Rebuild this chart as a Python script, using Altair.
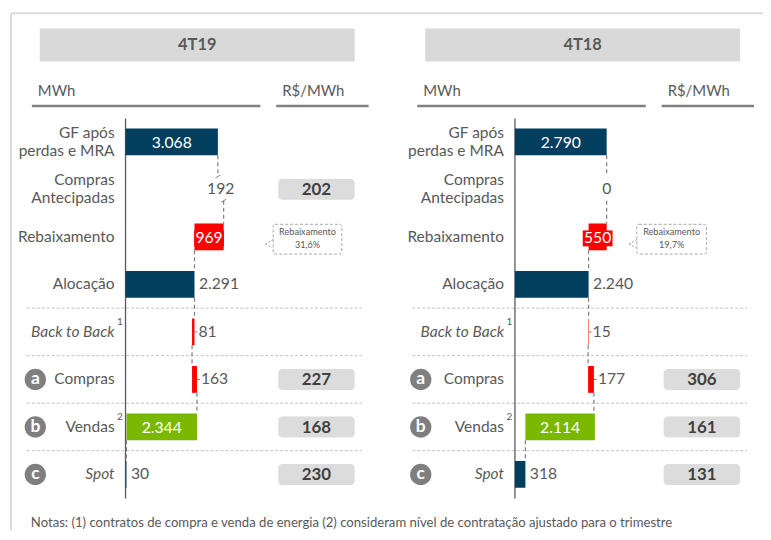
import altair as alt
import pandas as pd

# ---------------- data ----------------
periods = ["4T19", "4T18"]
row_labels = ["GF após|perdas e MRA", "Compras|Antecipadas", "Rebaixamento", "Alocação",
              "Back to Back", "Compras", "Vendas", "Spot"]
italic_rows = ["Back to Back", "Spot"]
mwh_4t19 = [3068, 192, 969, 2291, 81, 163, 2344, 30]
mwh_4t18 = [2790, 0, 550, 2240, 15, 177, 2114, 318]
price_rows = ["Compras|Antecipadas", "Compras", "Vendas", "Spot"]
price_4t19 = [202, 227, 168, 230]
price_4t18 = [None, 306, 161, 131]
rebaix_title = "Rebaixamento"
rebaix_pct = ["31,6%", "19,7%"]
letter_rows = ["Compras", "Vendas", "Spot"]
letters = ["a", "b", "c"]
sup_rows = ["Back to Back", "Vendas"]
sups = ["1", "2"]
unit_left = "MWh"
unit_right = "R$/MWh"
note = ("Notas:  (1) contratos de compra e venda de energia (2) consideram nível de "
        "contratação ajustado para o trimestre")

# ---------------- style ----------------
FONT = "Lato"
NAVY = "#023f5e"
RED = "#ff0000"
GREEN = "#7ab800"
TXT = "#595959"
LBL = 15.6
NUM = 15.8
Y0, DY = 133.0, 47.83
H = 0.282
ys = alt.Scale(domain=[0, 7], range=[Y0, Y0 + 7 * DY])


def fmt(v):
    return f"{v:,}".replace(",", ".")


def Yq(field):
    return alt.Y(field, type="quantitative", scale=ys, axis=None)


one = pd.DataFrame({"k": [0]})
layers = []

# outer frame
layers.append(alt.Chart(one).mark_rule(color="#dadada", strokeWidth=2).encode(
    x=alt.value(3), x2=alt.value(760), y=alt.value(3.5)))
layers.append(alt.Chart(one).mark_rule(color="#dadada", strokeWidth=2).encode(
    x=alt.value(3), y=alt.value(3.5), y2=alt.value(524)))

# note
layers.append(alt.Chart(pd.DataFrame({"t": [note]})).mark_text(
    font=FONT, fontSize=13.2, color=TXT, align="left", baseline="middle").encode(
    x=alt.value(23), y=alt.value(516.5), text="t:N"))


def panel(pi, period, vals, prices, pct):
    off = [0, 388][pi]
    ax0 = [118.3, 510.3][pi]
    ppu = [0.0303, 0.0331][pi]
    cx0, cx1 = [(267, 336), (633, 703)][pi]
    xs = alt.Scale(domain=[0, 10000], range=[ax0, ax0 + 10000 * ppu])

    def Xq(field):
        return alt.X(field, type="quantitative", scale=xs, axis=None)

    L = []
    gf, ca, reb, aloc, btb, comp, vend, spot = vals
    after_ca = gf + ca
    after_btb = aloc - btb
    after_comp = after_btb + comp

    # header box + title
    pdf = pd.DataFrame({"p": [period]})
    L.append(alt.Chart(pdf).mark_rect(color="#d9d9d9").encode(
        x=alt.value(off + 32), x2=alt.value(off + 349), y=alt.value(19), y2=alt.value(52)))
    L.append(alt.Chart(pdf).mark_text(font=FONT, fontSize=16.5, fontWeight="bold", color=TXT,
                                      baseline="middle").encode(
        x=alt.value(off + 190.5), y=alt.value(36), text="p:N"))
    # unit headers
    udf = pd.DataFrame({"u": [unit_left]})
    L.append(alt.Chart(udf).mark_text(font=FONT, fontSize=15, color=TXT, align="left",
                                      baseline="middle").encode(
        x=alt.value(off + 30), y=alt.value(82), text="u:N"))
    udf2 = pd.DataFrame({"u": [unit_right]})
    L.append(alt.Chart(udf2).mark_text(font=FONT, fontSize=15, color=TXT, align="left",
                                       baseline="middle").encode(
        x=alt.value(off + 276), y=alt.value(82), text="u:N"))
    L.append(alt.Chart(one).mark_rule(color="#808080", strokeWidth=2.5).encode(
        x=alt.value(off + 24), x2=alt.value(off + 254), y=alt.value(97)))
    L.append(alt.Chart(one).mark_rule(color="#808080", strokeWidth=2.5).encode(
        x=alt.value(off + 270), x2=alt.value(off + 363), y=alt.value(97)))

    # separators between lower rows
    sep = pd.DataFrame({"b": [i + 0.5 for i in range(3, 7)]})
    L.append(alt.Chart(sep).mark_rule(color="#bfbfbf", strokeDash=[3, 2], strokeWidth=1).encode(
        x=alt.value(off + 19), x2=alt.value(off + 356), y=Yq("b")))

    # axis line at zero
    L.append(alt.Chart(pd.DataFrame({"z": [0]})).mark_rule(color="#595959", strokeWidth=1.3).encode(
        x=Xq("z"), y=alt.value(109.5), y2=alt.value(492)))

    # row labels
    rl = pd.DataFrame({"label": row_labels, "row": list(range(len(row_labels)))})
    rl["italic"] = rl.label.isin(italic_rows)
    rl["multi"] = rl.label.str.contains("|", regex=False)
    for it in (False, True):
        for mu in (False, True):
            sub = rl[(rl.italic == it) & (rl.multi == mu)]
            if len(sub) == 0:
                continue
            L.append(alt.Chart(sub).mark_text(
                font=FONT, fontSize=LBL, color=TXT, align="right", baseline="middle",
                lineBreak="|", lineHeight=18, dy=-9 if mu else 0,
                fontStyle="italic" if it else "normal").encode(
                x=alt.value(ax0 - 11), y=Yq("row"), text="label:N"))
    # superscripts
    sp = pd.DataFrame({"s": sups, "row": [row_labels.index(r) - 0.21 for r in sup_rows]})
    L.append(alt.Chart(sp).mark_text(font=FONT, fontSize=10, color=TXT, align="left",
                                     baseline="middle").encode(
        x=alt.value(ax0 - 8.5), y=Yq("row"), text="s:N"))
    # lettered circles
    lc = pd.DataFrame({"l": letters, "row": [row_labels.index(r) for r in letter_rows]})
    L.append(alt.Chart(lc).mark_circle(color="#7f7f7f", opacity=1, size=460).encode(
        x=alt.value(off + 27.5), y=Yq("row")))
    L.append(alt.Chart(lc).mark_text(font=FONT, fontSize=17.5, fontWeight="bold", color="white",
                                     baseline="middle").encode(
        x=alt.value(off + 27.5), y=Yq("row"), text="l:N"))

    # price boxes
    pr = pd.DataFrame({"r": price_rows, "v": prices}).dropna()
    pr["row"] = [row_labels.index(r) for r in pr.r]
    pr["y0"] = pr.row - 0.22
    pr["y1"] = pr.row + 0.22
    pr["t"] = [fmt(int(v)) for v in pr.v]
    L.append(alt.Chart(pr).mark_rect(color="#dcdcdc", cornerRadius=4).encode(
        x=alt.value(off + 272), x2=alt.value(off + 349), y=Yq("y0"), y2="y1:Q"))
    L.append(alt.Chart(pr).mark_text(font=FONT, fontSize=17, fontWeight="bold", color="#404040",
                                     baseline="middle", dy=1).encode(
        x=alt.value(off + 310.5), y=Yq("row"), text="t:N"))

    # callout for the rebaixamento
    rrow = row_labels.index("Rebaixamento")
    cb = pd.DataFrame({"y0": [rrow - 0.265], "y1": [rrow + 0.362]})
    L.append(alt.Chart(cb).mark_rect(fill="white", stroke="#a6a6a6", strokeDash=[3, 2],
                                     strokeWidth=1, cornerRadius=2).encode(
        x=alt.value(cx0), x2=alt.value(cx1), y=Yq("y0"), y2="y1:Q"))
    ptr = pd.DataFrame({"ya": [rrow + 0.055, rrow + 0.153], "yb": [rrow + 0.153, rrow + 0.22],
                        "xa": [cx0, cx0 - 8], "xb": [cx0 - 8, cx0 - 1]})
    for i in range(2):
        L.append(alt.Chart(ptr.iloc[[i]]).mark_rule(color="#a6a6a6", strokeDash=[2, 1.5],
                                                   strokeWidth=1).encode(
            x=alt.value(float(ptr.xa[i])), x2=alt.value(float(ptr.xb[i])),
            y=Yq("ya"), y2="yb:Q"))
    ct = pd.DataFrame({"t": [rebaix_title + "|" + pct], "row": [rrow + 0.03]})
    L.append(alt.Chart(ct).mark_text(font=FONT, fontSize=9.2, color=TXT, lineBreak="|",
                                     lineHeight=12.6, baseline="middle", dy=-6.3).encode(
        x=alt.value((cx0 + cx1) / 2), y=Yq("row"), text="t:N"))

    # waterfall bars
    bars = pd.DataFrame([
        dict(row=0, x0=0, x1=gf, color=NAVY, mode="in", val=gf),
        dict(row=2, x0=after_ca - reb, x1=after_ca, color=RED, mode="box", val=reb),
        dict(row=3, x0=0, x1=aloc, color=NAVY, mode="right", val=aloc),
        dict(row=4, x0=after_btb, x1=aloc, color=RED, mode="tick", val=btb),
        dict(row=5, x0=after_btb, x1=after_comp, color=RED, mode="tick", val=comp),
        dict(row=6, x0=spot, x1=spot + vend, color=GREEN, mode="in", val=vend),
        dict(row=7, x0=0, x1=spot, color=NAVY, mode="right", val=spot),
    ])
    bars["y0"] = bars.row - H
    bars["y1"] = bars.row + H
    bars["mid"] = (bars.x0 + bars.x1) / 2
    bars["hi"] = bars[["x0", "x1"]].max(axis=1)
    bars["label"] = bars.val.map(fmt)

    # connectors
    conn = pd.DataFrame([
        dict(x=gf, ya=0 + H, yb=1 - 0.3),
        dict(x=after_ca, ya=1 + 0.24, yb=2 - H),
        dict(x=after_ca - reb, ya=2 + H, yb=3 - H),
        dict(x=aloc, ya=3 + H, yb=4 - H),
        dict(x=after_btb, ya=4 + H, yb=5 - H),
        dict(x=after_comp, ya=5 + H, yb=6 - H),
        dict(x=spot, ya=6 + H, yb=7 - H),
    ])
    L.append(alt.Chart(conn).mark_rule(color="#7f7f7f", strokeDash=[4, 3], strokeWidth=1.2).encode(
        x=Xq("x"), y=Yq("ya"), y2="yb:Q"))
    if ca > 0:
        brk = pd.DataFrame({"x": [gf, after_ca], "y": [1 - 0.27, 1 + 0.24]})
        L.append(alt.Chart(brk).mark_rule(color="#7f7f7f", strokeWidth=1, xOffset=-2.5,
                                          x2Offset=2.5, yOffset=1.5, y2Offset=-1.5).encode(
            x=Xq("x"), x2="x:Q", y=Yq("y"), y2="y:Q"))

    L.append(alt.Chart(bars).mark_rect().encode(
        x=Xq("x0"), x2="x1:Q", y=Yq("y0"), y2="y1:Q",
        color=alt.Color("color:N", scale=None)))
    # red label boxes
    L.append(alt.Chart(bars[bars["mode"] == "box"]).mark_point(
        shape="M-1,-0.533H1V0.533H-1Z", filled=True, size=900, color=RED, opacity=1,
        strokeWidth=0, yOffset=1.5).encode(x=Xq("mid"), y=Yq("row")))
    # leader ticks
    L.append(alt.Chart(bars[bars["mode"] == "tick"]).mark_rule(
        color="#7f7f7f", strokeWidth=1, x2Offset=3).encode(
        x=Xq("hi"), x2="hi:Q", y=Yq("row")))
    # labels
    L.append(alt.Chart(bars[bars["mode"].isin(["in", "box"])]).mark_text(
        font=FONT, fontSize=NUM, color="white", baseline="middle", dy=1).encode(
        x=Xq("mid"), y=Yq("row"), text="label:N"))
    L.append(alt.Chart(bars[bars["mode"] == "right"]).mark_text(
        font=FONT, fontSize=NUM, color=TXT, baseline="middle", align="left", dx=4.5).encode(
        x=Xq("hi"), y=Yq("row"), text="label:N"))
    L.append(alt.Chart(bars[bars["mode"] == "tick"]).mark_text(
        font=FONT, fontSize=NUM, color=TXT, baseline="middle", align="left", dx=4).encode(
        x=Xq("hi"), y=Yq("row"), text="label:N"))
    cal = pd.DataFrame({"x": [(gf + after_ca) / 2], "row": [1], "label": [fmt(ca)]})
    L.append(alt.Chart(cal).mark_text(font=FONT, fontSize=NUM, color=TXT, baseline="middle").encode(
        x=Xq("x"), y=Yq("row"), text="label:N"))
    return L


layers += panel(0, periods[0], mwh_4t19, price_4t19, rebaix_pct[0])
layers += panel(1, periods[1], mwh_4t18, price_4t18, rebaix_pct[1])

chart = alt.layer(*layers).properties(
    width=760, height=524, padding=0, autosize=alt.AutoSizeParams(type="none")
).resolve_scale(x="independent").configure_view(stroke=None)

chart.save("out.html", embed_options={"renderer": "svg", "actions": False})
